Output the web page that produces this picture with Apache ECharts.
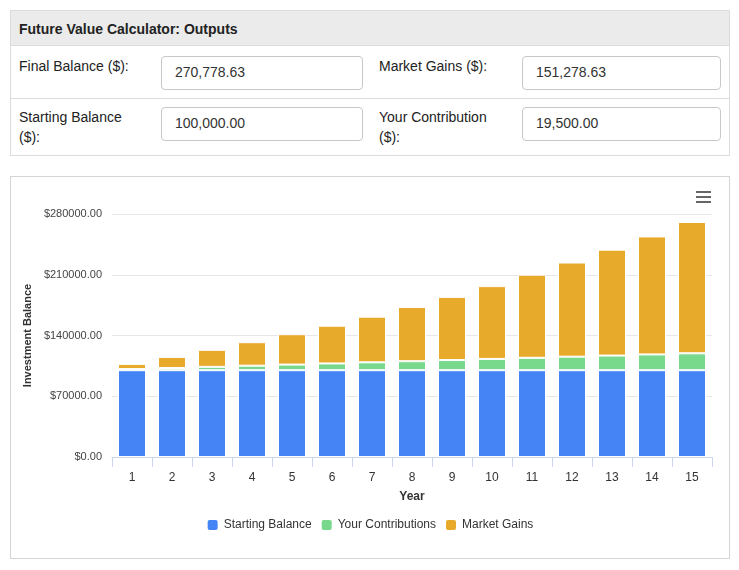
<!DOCTYPE html>
<html>
<head>
<meta charset="utf-8">
<script src="https://cdn.jsdelivr.net/npm/echarts@6/dist/echarts.min.js"></script>
<style>
  html, body { margin: 0; padding: 0; background: #fff; width: 739px; height: 570px; overflow: hidden; }
  body { font-family: "Liberation Sans", Arial, Helvetica, sans-serif; color: #333; position: relative; }
  .abs { position: absolute; box-sizing: border-box; }
  .panel { border: 1px solid #dcdcdc; }
  .hdr { background: #ebebeb; border-bottom: 1px solid #dcdcdc; }
  .hdr span { position: absolute; left: 8px; top: 10px; font-size: 14px; font-weight: bold; color: #222; }
  .sep { height: 1px; background: #dcdcdc; }
  .lbl { font-size: 14px; color: #222; line-height: 20px; }
  .inp { border: 1px solid #c8c8c8; border-radius: 4px; font-size: 14px; color: #333; padding-left: 13px; line-height: 31px; background: #fff; }
  #chart { position: absolute; left: 0; top: 0; width: 739px; height: 570px; }
</style>
</head>
<body>
<div class="abs panel" style="left:10px; top:10px; width:720px; height:146px;"></div>
<div class="abs hdr" style="left:11px; top:11px; width:718px; height:35px;"><span>Future Value Calculator: Outputs</span></div>
<div class="abs sep" style="left:11px; top:98px; width:718px;"></div>

<div class="abs lbl" style="left:19px; top:56px;">Final Balance ($):</div>
<div class="abs inp" style="left:161px; top:56px; width:202px; height:34px;">270,778.63</div>
<div class="abs lbl" style="left:379px; top:56px;">Market Gains ($):</div>
<div class="abs inp" style="left:522px; top:56px; width:199px; height:34px;">151,278.63</div>

<div class="abs lbl" style="left:19px; top:107px;">Starting Balance<br>($):</div>
<div class="abs inp" style="left:161px; top:107px; width:202px; height:34px;">100,000.00</div>
<div class="abs lbl" style="left:379px; top:107px;">Your Contribution<br>($):</div>
<div class="abs inp" style="left:522px; top:107px; width:199px; height:34px;">19,500.00</div>

<div class="abs panel" style="left:10px; top:176px; width:720px; height:383px; border-color:#d4d4d4;"></div>
<div id="chart"></div>

<script>
const years = ['1','2','3','4','5','6','7','8','9','10','11','12','13','14','15'];
const startingBalance = [100000,100000,100000,100000,100000,100000,100000,100000,100000,100000,100000,100000,100000,100000,100000];
const contributions = [1300,2600,3900,5200,6500,7800,9100,10400,11700,13000,14300,15600,16900,18200,19500];
const marketGains = [6000,12700,19600,27100,35000,43500,52600,62400,72800,83900,95800,108500,122000,136000,151278.63];
const yTicks = { min: 0, max: 280000, interval: 70000 };
const seriesNames = ['Starting Balance','Your Contributions','Market Gains'];
const colors = ['#4584f5','#78d98d','#e8aa2b'];

const chart = echarts.init(document.getElementById('chart'), null, { renderer: 'canvas' });
const font = '"Liberation Sans", Arial, Helvetica, sans-serif';
const mk = (name, data, color) => ({
  name, type: 'bar', stack: 'total', data, barWidth: 28,
  itemStyle: { color, borderColor: '#ffffff', borderWidth: 1 },
  emphasis: { disabled: true }
});
chart.setOption({
  animation: false,
  textStyle: { fontFamily: font },
  grid: { left: 112, right: 27, top: 214, bottom: 113, containLabel: false },
  legend: {
    bottom: 33, left: 'center', itemWidth: 12, itemHeight: 12, itemGap: 8,
    icon: 'roundRect',
    textStyle: { fontSize: 12, color: '#333', fontFamily: font },
    data: seriesNames
  },
  xAxis: {
    type: 'category', data: years,
    name: 'Year', nameLocation: 'middle', nameGap: 34,
    nameTextStyle: { fontSize: 12, fontWeight: 'bold', color: '#333', fontFamily: font },
    axisLine: { lineStyle: { color: '#ccd6eb' } },
    axisTick: { show: true, length: 10, lineStyle: { color: '#ccd6eb' } },
    axisLabel: { fontSize: 12, color: '#333', margin: 15, fontFamily: font }
  },
  yAxis: {
    type: 'value', min: yTicks.min, max: yTicks.max, interval: yTicks.interval,
    name: 'Investment Balance', nameLocation: 'middle', nameGap: 76,
    nameTextStyle: { fontSize: 11, fontWeight: 'bold', color: '#333', fontFamily: font },
    axisLine: { show: false }, axisTick: { show: false },
    splitLine: { lineStyle: { color: '#e6e6e6' } },
    axisLabel: { fontSize: 11, color: '#444', margin: 10, fontFamily: font,
      formatter: v => '$' + v.toFixed(2) }
  },
  graphic: [
    { type: 'rect', shape: { x: 696, y: 191, width: 15, height: 2 }, style: { fill: '#666' } },
    { type: 'rect', shape: { x: 696, y: 196, width: 15, height: 2 }, style: { fill: '#666' } },
    { type: 'rect', shape: { x: 696, y: 201, width: 15, height: 2 }, style: { fill: '#666' } }
  ],
  series: [
    mk(seriesNames[0], startingBalance, colors[0]),
    mk(seriesNames[1], contributions, colors[1]),
    mk(seriesNames[2], marketGains, colors[2])
  ]
});
</script>
</body>
</html>
